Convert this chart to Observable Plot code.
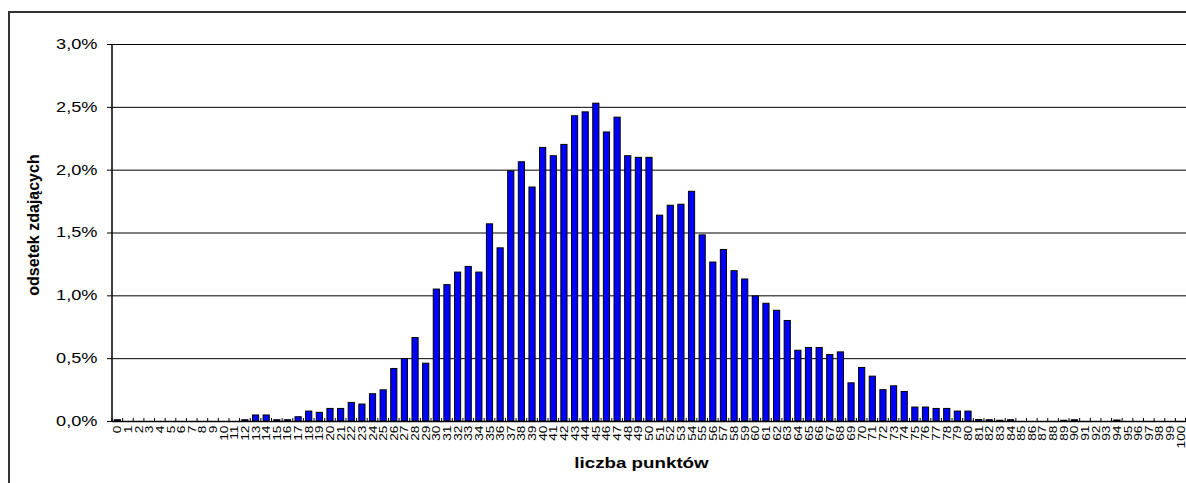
<!DOCTYPE html>
<html><head><meta charset="utf-8">
<script src="https://cdn.jsdelivr.net/npm/d3@7"></script>
<script src="https://cdn.jsdelivr.net/npm/@observablehq/plot@0.6"></script>
<style>
body{margin:0;background:#fff;}
#wrap{position:relative;width:1186px;height:483px;overflow:hidden;background:#fff;}
#frame{position:absolute;left:8px;top:11px;right:-5px;bottom:-5px;border-left:2px solid #333;border-top:2px solid #333;}
#chart{position:absolute;left:0;top:0;}
</style></head><body>
<div id="wrap"><div id="frame"></div><div id="chart"></div></div>
<script>
const points = [0,1,2,3,4,5,6,7,8,9,10,11,12,13,14,15,16,17,18,19,20,21,22,23,24,25,26,27,28,29,30,31,32,33,34,35,36,37,38,39,40,41,42,43,44,45,46,47,48,49,50,51,52,53,54,55,56,57,58,59,60,61,62,63,64,65,66,67,68,69,70,71,72,73,74,75,76,77,78,79,80,81,82,83,84,85,86,87,88,89,90,91,92,93,94,95,96,97,98,99,100];
// odsetek zdających (%) for each score
const shares = [0.01,0,0,0,0,0,0,0,0,0,0,0,0.01,0.048,0.048,0.01,0.01,0.034,0.079,0.069,
0.10,0.10,0.148,0.135,0.217,0.248,0.418,0.497,0.664,0.46,
1.05,1.085,1.185,1.23,1.185,1.569,1.378,1.99,2.063,1.862,
2.177,2.111,2.201,2.429,2.46,2.529,2.30,2.418,2.111,2.098,
2.098,1.638,1.717,1.725,1.828,1.481,1.265,1.365,1.196,1.13,
0.995,0.937,0.881,0.80,0.563,0.585,0.585,0.529,0.55,0.304,
0.426,0.357,0.249,0.28,0.235,0.111,0.111,0.10,0.10,0.079,
0.079,0.012,0.01,0.006,0.01,0,0,0,0,0.006,
0.01,0,0,0,0.008,0,0,0,0,0,0];
const yTicks = [0,0.005,0.01,0.015,0.02,0.025,0.03];
const yTitle = "odsetek zdających";
const xTitle = "liczba punktów";

const data = points.map((p,i)=>({p, v: shares[i]/100})).filter(d=>d.v>0);
const fmt = d => (d*100).toFixed(1).replace(".", ",") + "%";
const FONT = "'Liberation Sans', Arial, sans-serif";

const chart = Plot.plot({
  width: 1186, height: 483,
  marginLeft: 112, marginRight: 0, marginTop: 44, marginBottom: 62,
  style: {fontFamily: FONT, background: "transparent", color: "#000"},
  x: {type: "band", domain: points, paddingInner: 0.42, paddingOuter: 0.21},
  y: {domain: [0, 0.03]},
  marks: [
    Plot.gridY(yTicks, {stroke: "#000", strokeOpacity: 1}),
    Plot.barY(data, {x: "p", y: "v", fill: "#0000ff", stroke: "#000", strokeWidth: 1}),
    Plot.ruleY([0], {stroke: "#000", strokeWidth: 1.5}),
    Plot.axisY(yTicks, {tickSize: 5, tickPadding: 10, tickFormat: fmt, fontSize: 14, label: null, stroke: "#000"}),
    Plot.axisX(points, {tickSize: 0, tickPadding: 4, tickRotate: -90, fontSize: 11, label: null}),
    Plot.text([yTitle], {text: d => d, frameAnchor: "left", textAnchor: "middle", dx: -79, dy: -8, rotate: -90, fontWeight: "bold", fontSize: 16, fill: "#000"}),
    Plot.text([xTitle], {text: d => d, frameAnchor: "bottom", dx: -8, dy: 46, fontWeight: "bold", fontSize: 15, fill: "#000"})
  ]
});
document.getElementById("chart").appendChild(chart);

const svg = d3.select(chart);
// widen text horizontally like the original rendering
function stretch(sel, sx, sy) {
  sel.each(function() {
    const t = d3.select(this);
    const tr = t.attr("transform");
    if (tr && tr.startsWith("translate")) {
      t.attr("transform", tr.replace(/^(translate\([^)]*\))/, `$1 scale(${sx},${sy})`));
    } else {
      const x = +t.attr("x") || 0, y = +t.attr("y") || 0;
      t.attr("transform", `translate(${x},${y}) scale(${sx},${sy}) translate(${-x},${-y})`);
    }
  });
}
stretch(svg.selectAll('g[aria-label="y-axis tick label"] text'), 1.3, 1);
stretch(svg.selectAll('g[aria-label="x-axis tick label"] text'), 1, 1.25);
svg.selectAll('g[aria-label="text"]').each(function(d, i) {
  if (i === 1) stretch(d3.select(this).selectAll("text"), 1.25, 1);
});

// axis line on the left and category tick marks, placed with Plot's scales
const xs = chart.scale("x"), ys = chart.scale("y");
const step = xs.step || (xs.range[1]-xs.range[0])/points.length;
const bw = xs.bandwidth || step*0.58;
const off = (step - bw)/2;
const g = svg.append("g").attr("stroke", "#000").attr("stroke-width", 1);
const x0 = xs.range[0];
g.append("line").attr("x1", x0).attr("x2", x0).attr("y1", ys.apply(0)).attr("y2", ys.apply(0.03)).attr("stroke-width", 1.5);
points.concat([null]).forEach((p, i) => {
  const bx = p === null ? xs.range[1] - 0.5 : xs.apply(p) - off;
  g.append("line").attr("x1", bx).attr("x2", bx).attr("y1", ys.apply(0)).attr("y2", ys.apply(0) - 3);
});
</script>
</body></html>
